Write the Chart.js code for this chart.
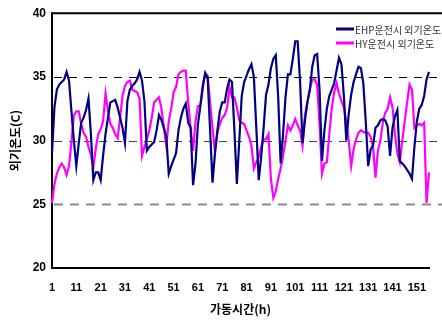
<!DOCTYPE html>
<html>
<head>
<meta charset="utf-8">
<script src="https://cdn.jsdelivr.net/npm/chart.js@4.4.0/dist/chart.umd.min.js"></script>
<style>
  html, body { margin: 0; padding: 0; background: #fff; }
</style>
</head>
<body>
<canvas id="chart" width="442" height="320"></canvas>
<script>
// operating hours 1..156
const hours = Array.from({ length: 156 }, (_, i) => String(i + 1));

// outdoor temperature while EHP runs
const ehpTemp = [
  29.0, 32.6, 34.0, 34.4, 34.6, 34.8, 35.4, 34.7, 32.3, 30.0,
  28.0, 29.8, 31.4, 31.8, 32.4, 33.3, 30.5, 26.9, 27.5, 27.5,
  26.9, 28.8, 30.5, 31.8, 33.0, 33.1, 33.2, 32.6, 31.8, 31.0,
  29.8, 33.1, 34.0, 34.3, 34.5, 34.8, 35.4, 34.7, 33.1, 29.2,
  29.5, 29.7, 29.9, 30.8, 32.0, 31.6, 31.0, 30.3, 27.4, 28.0,
  28.5, 29.0, 30.8, 31.8, 32.5, 32.9, 31.4, 31.0, 26.5, 28.2,
  31.3, 32.7, 34.2, 35.3, 34.9, 30.8, 26.7, 29.0, 30.8, 32.3,
  33.0, 33.0, 34.1, 34.8, 34.6, 30.8, 26.6, 30.0, 33.5, 34.6,
  35.1, 35.6, 36.0, 35.0, 31.0, 26.9, 28.7, 31.0, 33.6, 34.4,
  35.7, 36.4, 36.7, 33.4, 28.2, 30.5, 33.4, 35.2, 35.2, 36.4,
  37.8, 37.8, 34.6, 29.8, 31.6, 33.0, 34.0, 35.8, 36.7, 36.8,
  34.0, 28.4, 30.8, 32.5, 33.5, 34.0, 34.5, 35.5, 36.5, 36.0,
  33.5, 30.0, 32.1, 33.6, 34.6, 35.2, 35.8, 35.7, 34.5, 31.5,
  28.0, 29.3, 29.6, 31.0, 31.2, 31.6, 31.7, 31.6, 31.1, 28.8,
  31.0, 31.9, 32.4, 28.4, 28.2, 28.0, 27.7, 27.4, 27.0, 29.5,
  31.5, 32.5, 32.8, 33.5, 34.8, 35.4
];

// outdoor temperature while HY runs
const hyTemp = [
  25.1, 26.6, 27.4, 27.9, 28.2, 27.9, 27.3, 28.0, 29.9, 32.0,
  32.3, 32.3, 31.3, 30.6, 30.3, 29.5, 28.9, 27.9, 29.4, 30.5,
  30.9, 31.5, 33.7, 32.4, 31.3, 31.0, 30.5, 30.2, 31.8, 33.5,
  34.3, 34.6, 34.7, 34.0, 33.9, 33.8, 33.3, 28.8, 29.5, 30.1,
  30.8, 31.8, 33.0, 33.2, 33.4, 32.5, 31.0, 29.6, 31.5, 32.5,
  33.8, 34.2, 35.2, 35.4, 35.5, 35.5, 33.0, 31.0, 29.2, 31.5,
  32.7, 32.8, 34.4, 35.3, 35.1, 33.0, 31.0, 29.1, 30.6, 31.3,
  31.8, 32.0, 32.6, 34.2, 33.4, 33.4, 32.6, 31.6, 31.4, 31.3,
  30.8, 30.3, 29.6, 27.8, 28.3, 28.7, 29.5, 30.1, 30.1, 30.5,
  27.0, 25.5, 26.0, 27.0, 27.8, 28.8, 30.0, 31.2, 30.8, 31.2,
  31.7, 31.2, 30.8, 29.6, 32.0, 33.0, 34.0, 34.8, 34.8, 34.4,
  31.3, 27.4, 28.2, 28.3, 30.5, 32.5, 33.8, 34.5, 33.7, 33.1,
  32.6, 31.5, 30.0, 28.0, 29.3, 30.1, 30.6, 30.8, 30.7, 30.6,
  30.6, 30.3, 29.5, 27.1, 29.2, 30.0, 31.4, 32.2, 32.5, 33.4,
  32.6, 30.5, 29.0, 28.3, 30.0, 31.5, 33.0, 34.4, 34.0, 31.0,
  31.2, 31.3, 31.2, 31.4, 25.1, 27.5
];

const seriesNames = ['EHP운전시 외기온도', 'HY운전시 외기온도'];
const dashLevels = [25, 30, 35];

const numFont = 'Liberation Sans, Arial, sans-serif';
const krFont = '"Noto Sans CJK KR", sans-serif';

// dashed reference lines, frame top and the in-plot legend
const framePlugin = {
  id: 'frame',
  beforeDatasetsDraw(chart) {
    const { ctx, chartArea: a, scales: { y } } = chart;
    ctx.save();
    dashLevels.forEach(v => {
      const py = Math.round(y.getPixelForValue(v)) + 0.5;
      ctx.beginPath();
      if (v === 25) {
        ctx.strokeStyle = '#888';
        ctx.lineWidth = 2;
        ctx.setLineDash([9, 7]);
      } else {
        ctx.strokeStyle = v === 35 ? '#000' : '#444';
        ctx.lineWidth = 1;
        ctx.setLineDash([8, 7]);
      }
      ctx.moveTo(a.left + 2, py);
      ctx.lineTo(chart.width, py);
      ctx.stroke();
    });
    ctx.restore();
  },
  afterDraw(chart) {
    const { ctx, chartArea: a } = chart;
    ctx.save();
    ctx.strokeStyle = '#000';
    ctx.lineWidth = 2;
    ctx.beginPath();
    ctx.moveTo(a.left - 1, a.top);
    ctx.lineTo(chart.width, a.top);
    ctx.stroke();

    ctx.font = '10px ' + krFont;
    ctx.textBaseline = 'middle';
    ctx.fillStyle = '#333';
    chart.data.datasets.forEach((ds, i) => {
      const ly = 29 + i * 14;
      ctx.strokeStyle = ds.borderColor;
      ctx.lineWidth = 3;
      ctx.beginPath();
      ctx.moveTo(336, ly);
      ctx.lineTo(354, ly);
      ctx.stroke();
      ctx.fillText(ds.label, 355, ly + 1);
    });
    ctx.restore();
  }
};

new Chart(document.getElementById('chart'), {
  type: 'line',
  data: {
    labels: hours,
    datasets: [
      { label: seriesNames[0], data: ehpTemp, borderColor: '#000080', borderWidth: 2.2, pointRadius: 0, tension: 0 },
      { label: seriesNames[1], data: hyTemp, borderColor: '#FF00FF', borderWidth: 2.2, pointRadius: 0, tension: 0 }
    ]
  },
  options: {
    responsive: false,
    animation: false,
    layout: { padding: { top: 12, right: 1, bottom: 0, left: 0 } },
    plugins: { legend: { display: false }, tooltip: { enabled: false } },
    scales: {
      x: {
        type: 'category',
        offset: false,
        grid: { display: false, drawTicks: false },
        border: { display: true, color: '#000', width: 2 },
        ticks: {
          autoSkip: false,
          maxRotation: 0,
          padding: 13,
          color: '#000',
          font: { family: numFont, size: 11, weight: 'bold' },
          callback: (v, i) => (i % 10 === 0 ? hours[i] : '')
        },
        title: {
          display: true,
          text: '가동시간(h)',
          color: '#000',
          font: { family: krFont, size: 12, weight: 'bold' },
          padding: { top: 0, bottom: 3 }
        },
        afterFit: s => { s.height = 52; }
      },
      y: {
        min: 20,
        max: 40,
        grid: { display: false, drawTicks: false },
        border: { display: true, color: '#000', width: 2 },
        ticks: {
          stepSize: 5,
          padding: 6,
          color: '#000',
          font: { family: numFont, size: 12, weight: 'bold' }
        },
        title: {
          display: true,
          text: '외기온도(C)',
          color: '#000',
          font: { family: krFont, size: 12, weight: 'bold' },
          padding: { top: 8, bottom: 0 }
        },
        afterFit: s => { s.width = 52; }
      }
    }
  },
  plugins: [framePlugin]
});
</script>
</body>
</html>
